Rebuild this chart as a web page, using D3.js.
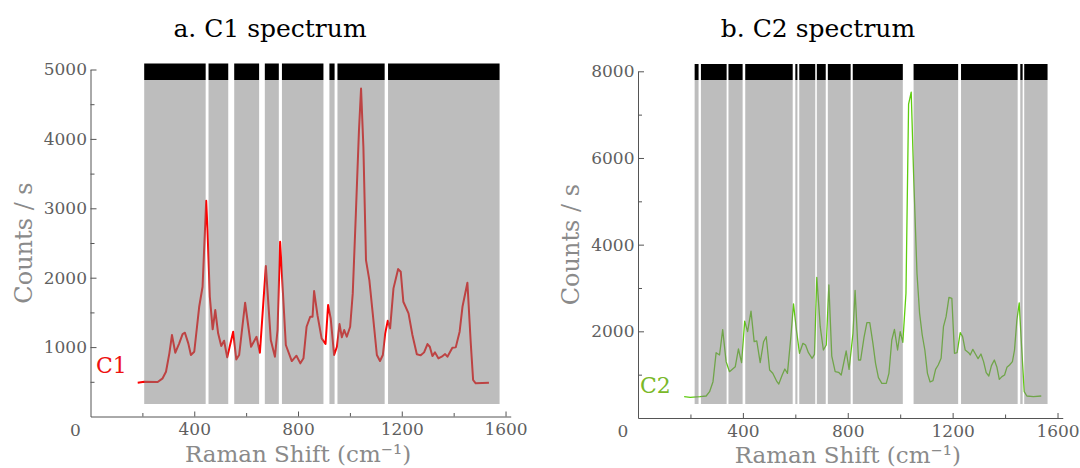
<!DOCTYPE html>
<html>
<head>
<meta charset="utf-8">
<script src="https://cdn.jsdelivr.net/npm/d3@7"></script>
<style>
body { margin: 0; background: #fff; }
text { font-family: "DejaVu Serif", serif; }
</style>
</head>
<body>
<div id="container"></div>
<script>
const WIDTH = 1080;
const HEIGHT = 468;

// C1 spectrum (Raman shift in cm-1, counts per second)
const c1Shift = [182,207,259,278,291,304,314,327,342,355,364,377,387,400,419,432,446,451,460,471,481,492,504,515,527,550,562,573,596,619,640,653,676,695,711,721,731,753,776,794,809,821,833,847,856,862,875,891,906,916,926,939,950,960,969,978,988,1001,1011,1023,1035,1043,1052,1062,1075,1088,1104,1116,1127,1136,1146,1155,1168,1186,1196,1206,1226,1241,1258,1273,1286,1299,1308,1318,1328,1341,1354,1367,1376,1395,1408,1423,1434,1453,1466,1475,1485,1536];
const c1Counts = [487,501,497,550,645,910,1174,919,1054,1188,1207,1054,886,933,1581,1869,3108,2686,1725,1256,1534,1198,1015,1092,852,1222,823,886,1639,1005,1149,919,2167,1102,862,1246,2517,1030,799,876,766,838,1293,1437,1437,1807,1460,1126,1044,1606,1414,886,1005,1332,1141,1246,1149,1293,1774,2926,4126,4726,3885,2254,1966,1486,886,799,886,1198,1380,1270,1846,2124,2085,1653,1486,1174,896,881,924,1044,1005,871,924,838,862,900,862,991,996,1222,1581,1927,1054,526,478,487];
const c1BandStart = [207,455,554,672,738,921,952,1147];
const c1BandEnd = [444,531,650,726,898,941,1134,1577];
const c1YMajor = [1000,2000,3000,4000,5000];
const c1YMinor = [500,1500,2500,3500,4500];

// C2 spectrum
const c2Shift = [176,199,237,260,273,286,298,311,323,336,349,371,383,395,407,418,431,443,453,466,479,489,502,514,530,537,550,560,570,583,593,605,616,629,639,650,664,673,682,695,707,718,728,739,752,765,775,794,805,820,828,841,849,862,873,884,896,906,917,930,947,957,968,978,990,1000,1010,1022,1032,1042,1051,1064,1074,1084,1094,1104,1114,1125,1135,1145,1156,1165,1175,1186,1197,1207,1217,1229,1238,1248,1261,1267,1277,1287,1297,1308,1318,1328,1338,1348,1359,1369,1378,1388,1398,1407,1417,1428,1436,1445,1454,1463,1473,1483,1508,1538];
const c2Counts = [492,477,492,508,607,838,1507,1454,2040,1300,1069,1184,1592,1277,2235,1992,2465,1761,1777,1277,1761,1876,1108,1031,838,785,992,1131,1031,1876,2635,1992,1493,1723,1684,1507,1377,1469,3246,2107,1569,1684,3070,1430,1069,1054,992,1546,1123,1953,2945,1338,1338,1860,2200,2200,1723,1261,931,800,800,1031,1800,2046,1569,1992,1746,2877,7240,7520,5646,3338,2415,1915,1569,1031,831,861,1123,1223,1377,2107,2338,2785,2760,1493,1507,1969,1877,1569,1507,1454,1585,1477,1369,1477,1300,1046,969,1208,1338,1169,892,954,992,1169,1223,1300,1569,2261,2655,1646,608,508,492,508];
const c2BandStart = [216,240,345,409,600,615,682,724,819,1051,1232,1458,1473];
const c2BandEnd = [231,338,399,590,608,676,716,811,1010,1221,1448,1467,1562];
const c2YMajor = [2000,4000,6000,8000];
const c2YMinor = [1000,3000,5000,7000];

const xMajor = [400,800,1200,1600];
const xMinor = [200,600,1000,1400];

var translate = function (x, y) {
    return "translate(" + x + "," + y + ")";
};

var svg = d3.select("#container")
    .append("svg")
    .attr("width", WIDTH)
    .attr("height", HEIGHT);

var drawPanel = function (p) {
    var xScale = d3.scaleLinear().domain([0, 1620]).range([p.x0, p.x0 + 1620 * p.xk]);
    var yScale = d3.scaleLinear().domain([0, p.yMax]).range([p.y0, p.yTop]);

    var data = p.shift.map(function (s, i) { return {x: s, y: p.counts[i]}; });
    var bands = p.bandStart.map(function (s, i) { return {a: s, b: p.bandEnd[i]}; });

    var line = d3.line()
        .x(function (d) { return xScale(d.x); })
        .y(function (d) { return yScale(d.y); });

    svg.append("path")
        .attr("d", line(data))
        .attr("fill", "none")
        .attr("stroke", p.lineColor)
        .attr("stroke-width", p.lineWidth)
        .attr("stroke-linejoin", "round");

    // grey bands sit over the trace, so the line is dimmed inside them
    svg.append("g").selectAll("rect").data(bands).enter()
        .append("rect")
        .attr("x", function (d) { return xScale(d.a); })
        .attr("width", function (d) { return xScale(d.b) - xScale(d.a); })
        .attr("y", p.headBottom)
        .attr("height", p.bandBottom - p.headBottom)
        .attr("fill", "#808080")
        .attr("fill-opacity", 0.52);

    svg.append("g").selectAll("rect").data(bands).enter()
        .append("rect")
        .attr("x", function (d) { return xScale(d.a); })
        .attr("width", function (d) { return xScale(d.b) - xScale(d.a); })
        .attr("y", p.headTop)
        .attr("height", p.headBottom - p.headTop)
        .attr("fill", "#000");

    // axes
    var fmt = d3.format("d");
    var xAxis = svg.append("g")
        .attr("transform", translate(0, p.y0))
        .call(d3.axisBottom(xScale).tickValues(xMajor).tickFormat(fmt)
            .tickSize(-5).tickSizeOuter(0).tickPadding(6.5));
    svg.append("g")
        .attr("transform", translate(0, p.y0))
        .call(d3.axisBottom(xScale).tickValues(xMinor).tickSize(-3.5).tickSizeOuter(0).tickFormat(""))
        .select(".domain").remove();

    var yAxis = svg.append("g")
        .attr("transform", translate(p.x0, 0))
        .call(d3.axisLeft(yScale).tickValues(p.yMajor).tickFormat(fmt)
            .tickSize(-6).tickSizeOuter(0).tickPadding(3.5));
    svg.append("g")
        .attr("transform", translate(p.x0, 0))
        .call(d3.axisLeft(yScale).tickValues(p.yMinor).tickSize(-4).tickSizeOuter(0).tickFormat(""))
        .select(".domain").remove();

    svg.selectAll(".domain, .tick line").attr("stroke", "#555");
    [xAxis, yAxis].forEach(function (g) {
        g.selectAll("text")
            .attr("fill", "#5f5f5f")
            .style("font-family", "'DejaVu Serif', serif")
            .style("font-size", "17px");
    });

    svg.append("text")
        .attr("x", p.x0 - 15)
        .attr("y", p.y0 + 19)
        .attr("text-anchor", "middle")
        .attr("fill", "#5f5f5f")
        .style("font-size", "17px")
        .text("0");

    svg.append("text")
        .attr("transform", translate(p.x0 - 67, (p.y0 + p.yTop) / 2) + " rotate(-90)")
        .attr("text-anchor", "middle")
        .attr("dy", "0.35em")
        .attr("fill", "#8a8a8a")
        .style("font-size", "24px")
        .text("Counts / s");

    svg.append("text")
        .attr("x", (xScale(0) + xScale(1600)) / 2)
        .attr("y", p.y0 + 45)
        .attr("text-anchor", "middle")
        .attr("fill", "#8a8a8a")
        .style("font-size", "23px")
        .text("Raman Shift (cm\u207B\u00B9)");

    svg.append("text")
        .attr("x", p.titleX)
        .attr("y", 37)
        .attr("text-anchor", "middle")
        .attr("fill", "#000")
        .style("font-size", "25px")
        .text(p.title);

    svg.append("text")
        .attr("x", p.tagX)
        .attr("y", p.tagY)
        .attr("fill", p.tagColor)
        .style("font-size", "22px")
        .text(p.tag);
};

drawPanel({
    shift: c1Shift, counts: c1Counts, bandStart: c1BandStart, bandEnd: c1BandEnd,
    yMajor: c1YMajor, yMinor: c1YMinor, yMax: 5000,
    x0: 90.5, xk: 0.2594, y0: 416.5, yTop: 69.5,
    headTop: 63.5, headBottom: 80, bandBottom: 404,
    lineColor: "#ff0000", lineWidth: 2,
    title: "a. C1 spectrum", titleX: 270,
    tag: "C1", tagX: 96, tagY: 373, tagColor: "#ee1111"
});

drawPanel({
    shift: c2Shift, counts: c2Counts, bandStart: c2BandStart, bandEnd: c2BandEnd,
    yMajor: c2YMajor, yMinor: c2YMinor, yMax: 8000,
    x0: 638, xk: 0.2622, y0: 418, yTop: 71.3,
    headTop: 64, headBottom: 80, bandBottom: 404,
    lineColor: "#5fcc10", lineWidth: 1.3,
    title: "b. C2 spectrum", titleX: 818,
    tag: "C2", tagX: 640, tagY: 393, tagColor: "#7ab829"
});
</script>
</body>
</html>
